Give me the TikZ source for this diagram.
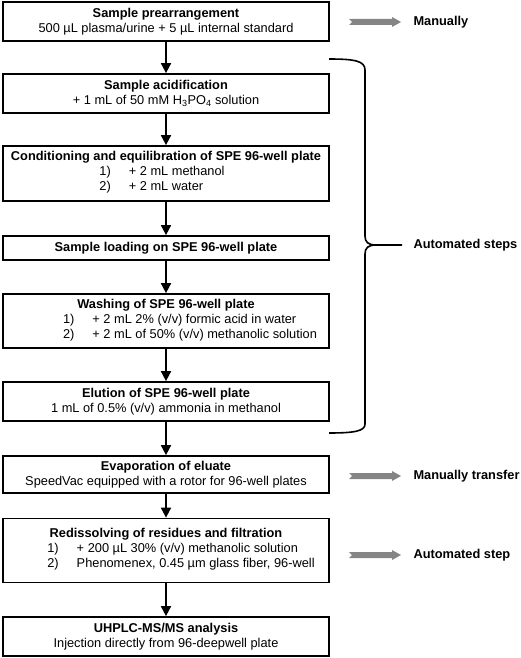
\documentclass[tikz,border=0pt]{standalone}
\usepackage{fontspec}
\setmainfont{Liberation Sans}
\usetikzlibrary{arrows.meta,positioning}

\tikzset{
  stepbox/.style={draw, line width=1.7pt, minimum width=326pt, inner sep=2pt,
    align=center, font=\fontsize{12.8}{15}\selectfont},
  flow/.style={line width=1.6pt, -{Triangle[length=10pt,width=10pt]}},
  note/.style={anchor=west, font=\fontsize{12.8}{15}\selectfont\bfseries},
  bigarrow/.style={fill=black!48, draw=none}
}

\begin{document}
\begin{tikzpicture}[x=1pt, y=-1pt]
    \useasboundingbox (0,0) rectangle (520,658);

    % Steps of the procedure
    \node[stepbox, minimum height=39pt] (prearr) at (166,21.5)
        {\textbf{Sample prearrangement}\\500 µL plasma/urine + 5 µL internal standard};
    \node[stepbox, minimum height=39pt] (acid) at (166,93.5)
        {\textbf{Sample acidification}\\+ 1 mL of 50 mM H\textsubscript{3}PO\textsubscript{4} solution};
    \node[stepbox, minimum height=55pt] (cond) at (166,173.5)
        {\textbf{Conditioning and equilibration of SPE 96-well plate}\\
         \hspace*{-8pt}\begin{tabular}[t]{@{}l@{\hspace{18pt}}l@{}}1) & + 2 mL methanol\\2) & + 2 mL water\end{tabular}};
    \node[stepbox, minimum height=24pt] (load) at (166,248)
        {\textbf{Sample loading on SPE 96-well plate}};
    \node[stepbox, minimum height=54pt] (wash) at (166,321)
        {\textbf{Washing of SPE 96-well plate}\\
         \hspace*{48pt}\begin{tabular}[t]{@{}l@{\hspace{18pt}}l@{}}1) & + 2 mL 2\% (v/v) formic acid in water\\2) & + 2 mL of 50\% (v/v) methanolic solution\end{tabular}};
    \node[stepbox, minimum height=39pt] (elut) at (166,401.5)
        {\textbf{Elution of SPE 96-well plate}\\1 mL of 0.5\% (v/v) ammonia in methanol};
    \node[stepbox, minimum height=37pt] (evap) at (166,474.5)
        {\textbf{Evaporation of eluate}\\SpeedVac equipped with a rotor for 96-well plates};
    \node[stepbox, minimum height=64pt] (redis) at (166,550.5)
        {\textbf{Redissolving of residues and filtration}\\
         \hspace*{30pt}\begin{tabular}[t]{@{}l@{\hspace{18pt}}l@{}}1) & + 200 µL 30\% (v/v) methanolic solution\\2) & Phenomenex, 0.45 µm glass fiber, 96-well\end{tabular}};
    \node[stepbox, minimum height=39pt] (uhplc) at (166,636.5)
        {\textbf{UHPLC-MS/MS analysis}\\Injection directly from 96-deepwell plate};

    % Connectors
    \draw[flow] (prearr) -- (acid);
    \draw[flow] (acid) -- (cond);
    \draw[flow] (cond) -- (load);
    \draw[flow] (load) -- (wash);
    \draw[flow] (wash) -- (elut);
    \draw[flow] (elut) -- (evap);
    \draw[flow] (evap) -- (redis);
    \draw[flow] (redis) -- (uhplc);

    % Gray arrows and notes
    \foreach \y in {22,476,555} {
        \fill[bigarrow] (349,\y-3) -- (392,\y-3) -- (392,\y-5) -- (401,\y)
            -- (392,\y+5) -- (392,\y+3) -- (349,\y+3) -- (352,\y) -- cycle;
    }
    \node[note] (manual) at (410,22) {Manually};
    \node[note] (transfer) at (410,476) {Manually transfer};
    \node[note] (autostep) at (410,555) {Automated step};

    % Brace
    \node[note] (autosteps) at (410,245) {Automated steps};
    \draw[line width=1.6pt] (329,59) .. controls (355,59) and (365,61) .. (365,70)
        -- (365,236) .. controls (365,242) and (368,245) .. (376,245) -- (402,245);
    \draw[line width=1.6pt] (376,245) .. controls (368,245) and (365,248) .. (365,254)
        -- (365,424) .. controls (365,431) and (355,433) .. (329,433);
\end{tikzpicture}
\end{document}
